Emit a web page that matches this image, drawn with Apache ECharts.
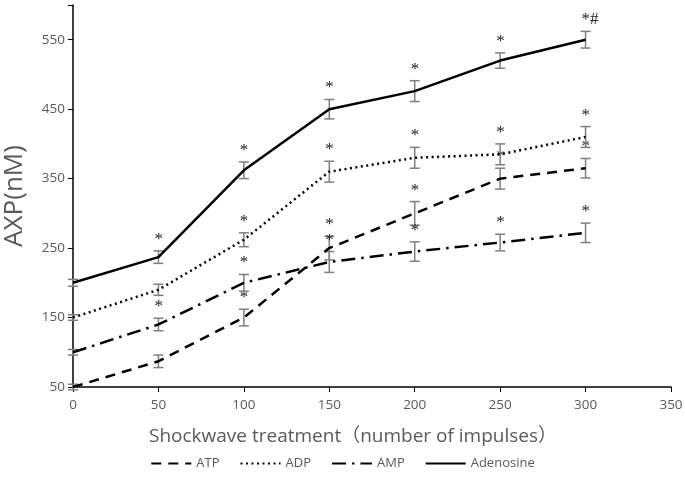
<!DOCTYPE html>
<html>
<head>
<meta charset="utf-8">
<script src="https://cdn.jsdelivr.net/npm/echarts@6/dist/echarts.min.js"></script>
<style>html,body{margin:0;padding:0;background:#fff}#c{width:685px;height:495px}</style>
</head>
<body>
<div id="c"></div>
<script>
const impulses = [0, 50, 100, 150, 200, 250, 300];
const ATP = [50, 87, 150, 250, 300, 350, 365];
const ADP = [150, 190, 262, 360, 380, 385, 410];
const AMP = [100, 140, 200, 230, 245, 258, 272];
const Adenosine = [200, 237, 362, 450, 476, 520, 550];
const errATP = [4, 9, 12, 17, 17, 15, 14];
const errADP = [4, 8, 10, 15, 15, 15, 15];
const errAMP = [4, 9, 12, 15, 14, 12, 14];
const errAdenosine = [5, 9, 12, 14, 15, 11, 12];
const sigATP = ['', '', '*', '*', '*', '*', '*'];
const sigADP = ['', '', '*', '*', '*', '*', '*'];
const sigAMP = ['', '*', '*', '*', '*', '*', '*'];
const sigAdenosine = ['', '*', '*', '*', '*', '*', '*#'];
const yTicks = [50, 150, 250, 350, 450, 550];

const chart = echarts.init(document.getElementById('c'));
const grey = '#595959';
const font = '"Open Sans", "Noto Sans CJK SC"';

function lineSeries(name, vals, type) {
  return {
    name, type: 'line', data: impulses.map((x, i) => [x, vals[i]]),
    symbol: 'none', z: 3,
    lineStyle: { color: '#000', width: 2.5, type: type, cap: 'butt' },
    itemStyle: { color: '#000' }
  };
}
function errSeries(vals, errs, sigs) {
  return {
    type: 'custom', z: 2, silent: true,
    data: impulses.map((x, i) => [x, vals[i], errs[i], i]),
    renderItem: function (params, api) {
      const x = api.value(0), y = api.value(1), e = api.value(2), i = api.value(3);
      const top = api.coord([x, y + e]);
      const bot = api.coord([x, y - e]);
      const w = 5;
      const style = { stroke: '#7f7f7f', lineWidth: 1.5 };
      const children = [
        { type: 'line', shape: { x1: top[0], y1: top[1], x2: bot[0], y2: bot[1] }, style },
        { type: 'line', shape: { x1: top[0] - w, y1: top[1], x2: top[0] + w, y2: top[1] }, style },
        { type: 'line', shape: { x1: bot[0] - w, y1: bot[1], x2: bot[0] + w, y2: bot[1] }, style }
      ];
      const s = sigs[i];
      if (s) {
        children.push({
          type: 'text', x: top[0] - 4, y: top[1] - 3,
          style: { text: s, fill: '#222', font: '17px "Liberation Serif"', align: 'left', verticalAlign: 'bottom' }
        });
      }
      return { type: 'group', children };
    }
  };
}

chart.setOption({
  animation: false,
  grid: { left: 73, right: 14, top: 5, bottom: 108, containLabel: false, outerBoundsMode: 'none' },
  legend: {
    bottom: 20, left: 'center',
    data: ['ATP', 'ADP', 'AMP', 'Adenosine'],
    itemWidth: 40, itemHeight: 10, itemGap: 20,
    itemStyle: { opacity: 0 },
    textStyle: { color: grey, fontSize: 13, fontFamily: font }
  },
  xAxis: {
    type: 'value', min: 0, max: 350, interval: 50,
    name: 'Shockwave treatment（number of impulses）',
    nameLocation: 'middle', nameGap: 40,
    nameTextStyle: { color: grey, fontSize: 19, fontFamily: font, padding: [0, 38, 0, 0] },
    axisLine: { lineStyle: { color: '#000', width: 1.5 } },
    axisTick: { show: true, length: 5, lineStyle: { color: '#000', width: 1 } },
    axisLabel: { color: grey, fontSize: 13.5, fontFamily: font, margin: 11 },
    splitLine: { show: false }
  },
  yAxis: {
    type: 'value', min: 50, max: 600, interval: 100,
    name: 'AXP(nM)', nameLocation: 'middle', nameGap: 45, nameRotate: 90,
    nameTextStyle: { color: grey, fontSize: 26, fontFamily: font },
    axisLine: { show: true, lineStyle: { color: '#000', width: 1.5 } },
    axisTick: { show: true, length: 5, lineStyle: { color: '#000', width: 1 } },
    axisLabel: {
      color: grey, fontSize: 13.5, fontFamily: font, margin: 8,
      formatter: v => yTicks.includes(v) ? String(v) : ''
    },
    splitLine: { show: false }
  },
  series: [
    lineSeries('ATP', ATP, [10, 7]),
    lineSeries('ADP', ADP, [2, 3.5]),
    lineSeries('AMP', AMP, [14, 6, 2.5, 6]),
    lineSeries('Adenosine', Adenosine, 'solid'),
    errSeries(ATP, errATP, sigATP),
    errSeries(ADP, errADP, sigADP),
    errSeries(AMP, errAMP, sigAMP),
    errSeries(Adenosine, errAdenosine, sigAdenosine)
  ]
});
</script>
</body>
</html>
